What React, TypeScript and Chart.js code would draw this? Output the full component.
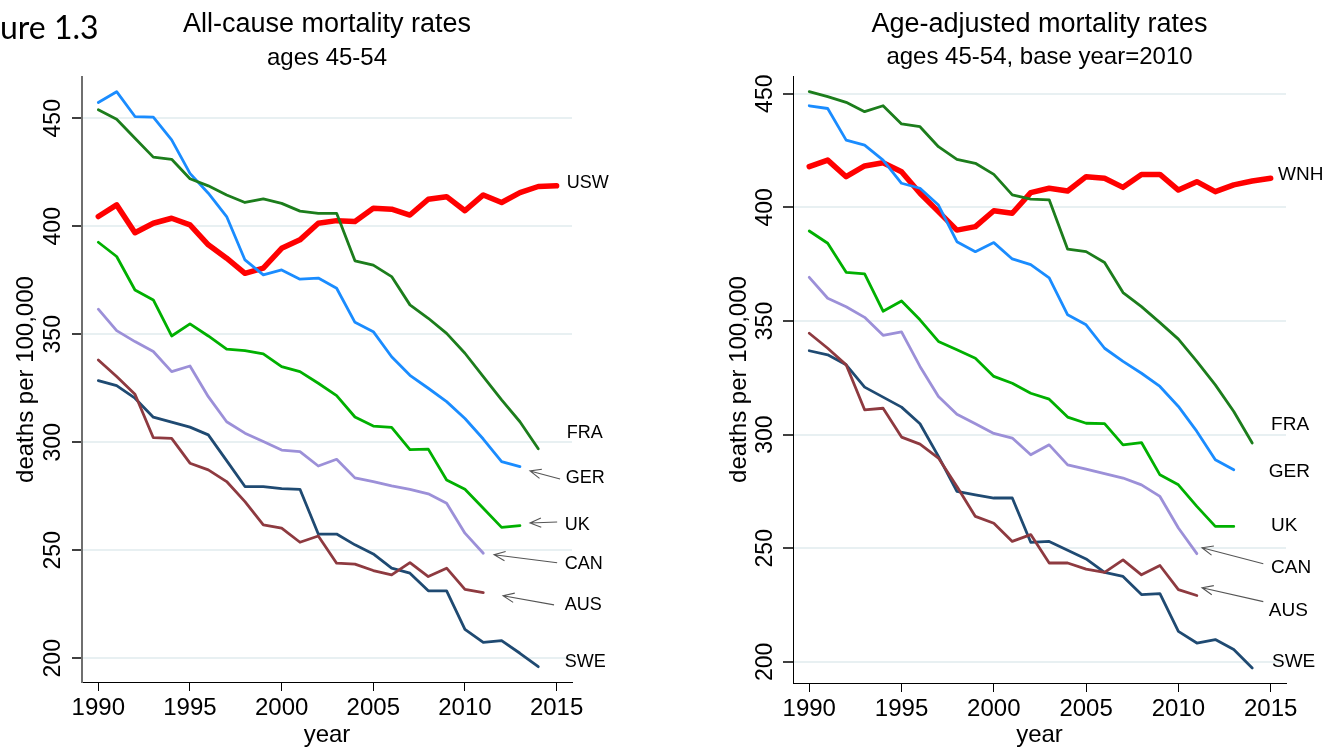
import React, { useEffect, useRef } from "react";
import { Chart, registerables } from "chart.js";

Chart.register(...registerables);

const FONT = "'Liberation Sans', Arial, Helvetica, sans-serif";

// ---------- shared ----------
const years = [1990, 1991, 1992, 1993, 1994, 1995, 1996, 1997, 1998, 1999, 2000, 2001, 2002, 2003, 2004, 2005, 2006, 2007, 2008, 2009, 2010, 2011, 2012, 2013, 2014, 2015];
const xTicks = [1990, 1995, 2000, 2005, 2010, 2015];
const yTicks = [200, 250, 300, 350, 400, 450];

// ---------- left panel: all-cause mortality ----------
const leftUSW = [404.5, 409.9, 397, 401.4, 403.7, 400.6, 391.4, 385.2, 378.2, 380.6, 389.8, 393.7, 401.4, 402.6, 402.2, 408.3, 407.9, 405.2, 412.5, 413.7, 407.2, 414.5, 411, 415.6, 418.4, 418.7];
const leftFRA = [453.9, 449.5, 440.7, 432, 431, 422, 418.7, 414.5, 411, 412.7, 410.6, 407, 406, 406, 384, 382, 376.7, 363.6, 357.4, 350.4, 341.2, 330.4, 319.6, 309.5, 297];
const leftGER = [457.3, 462.3, 450.8, 450.5, 440, 424.5, 415.3, 404.5, 384.4, 377.5, 379.8, 375.5, 376, 371.3, 355.5, 351.2, 339.6, 331, 325, 318.8, 311, 301.5, 291, 288.7];
const leftUK = [392.6, 386, 370.5, 365.9, 349.2, 354.8, 349.2, 343.1, 342.4, 340.9, 335, 332.7, 327.3, 321.6, 311.7, 307.5, 306.9, 296.6, 296.8, 282.5, 278.2, 269.4, 260.6, 261.4];
const leftCAN = [361.6, 351.7, 346.6, 342, 332.7, 335.3, 321.1, 309.5, 304.2, 300.3, 296.4, 295.7, 289, 292.1, 283.5, 281.8, 279.8, 278.2, 276.1, 271.8, 257.9, 248.6];
const leftAUS = [338.1, 330.4, 322.2, 302.1, 301.8, 290.3, 287.2, 281.8, 272.5, 261.7, 260.2, 253.7, 256.6, 244, 243.6, 240.6, 238.6, 244.3, 237.8, 241.7, 231.9, 230.4];
const leftSWE = [328.5, 326.2, 320.4, 311.6, 309.3, 307, 303.4, 291.5, 279.5, 279.5, 278.5, 278.2, 257.5, 257.5, 252.5, 248.3, 241.7, 239.4, 231.2, 231.2, 213.4, 207.3, 208.2, 202.3, 196.1];

const leftLabelNames = ["USW", "FRA", "GER", "UK", "CAN", "AUS", "SWE"];
const leftLabelYear = [2015.55, 2015.55, 2015.5, 2015.45, 2015.45, 2015.45, 2015.45];
const leftLabelValue = [420.0, 304.1, 283.5, 261.7, 243.6, 224.7, 198.3];

const leftArrowFromYear = [2015.19, 2015.03, 2015.03, 2014.86];
const leftArrowFromValue = [283.0, 263.1, 244.2, 224.7];
const leftArrowToYear = [2013.55, 2013.55, 2011.59, 2012.08];
const leftArrowToValue = [286.7, 262.6, 247.9, 228.9];

// ---------- right panel: age-adjusted mortality ----------
const rightWNH = [417.9, 420.8, 413.5, 418.2, 419.6, 415.7, 406.2, 398.1, 390, 391.5, 398.5, 397.4, 406.5, 408.4, 407.2, 413.5, 412.8, 408.8, 414.5, 414.5, 407.6, 411.3, 406.9, 409.9, 411.6, 412.8];
const rightFRA = [450.9, 448.7, 446.2, 442.1, 444.7, 436.7, 435.5, 426.7, 421.1, 419.4, 414.5, 405.5, 403.6, 403.3, 381.6, 380.5, 375.7, 362.5, 356.3, 349.3, 342, 332.2, 321.9, 310.2, 296.3];
const rightGER = [444.7, 443.5, 429.6, 427.4, 420.8, 410.6, 408.4, 401, 384.9, 380.5, 384.5, 377.3, 374.8, 369, 352.7, 348.3, 338, 332.2, 327, 321.2, 312.4, 301.4, 288.9, 284.5];
const rightUK = [389.6, 384.2, 371.4, 370.7, 354.3, 358.8, 350.5, 341, 337.3, 333.6, 325.6, 322.6, 318.2, 315.6, 307.7, 305, 304.8, 295.5, 296.5, 282.3, 277.9, 268.4, 259.6, 259.6];
const rightCAN = [369.2, 360, 356.3, 351.6, 343.7, 345.2, 330, 316.8, 309, 304.8, 300.5, 298.5, 291.1, 295.5, 286.7, 284.8, 282.8, 280.9, 277.9, 272.8, 258.9, 247.6];
const rightAUS = [344.6, 338, 330.7, 310.9, 311.6, 298.9, 295.8, 289.7, 277.2, 264, 261, 253, 256, 243.5, 243.5, 240.8, 239.4, 244.9, 238.3, 242.4, 231.8, 229.2];
const rightSWE = [336.9, 335.1, 330.7, 320.9, 316.5, 312.1, 304.8, 290.4, 275, 273.5, 272.1, 272.1, 252.6, 253, 249.1, 245.3, 239.4, 237.6, 229.6, 230, 213.4, 208.3, 209.8, 205.4, 197.3];

const rightLabelNames = ["WNH", "FRA", "GER", "UK", "CAN", "AUS", "SWE"];
const rightLabelYear = [2015.4, 2015.02, 2014.9, 2015.02, 2015.02, 2014.9, 2015.07];
const rightLabelValue = [414.2, 304.3, 283.6, 259.9, 241.4, 222.4, 200.0];

const rightArrowFromYear = [2014.6, 2014.6];
const rightArrowFromValue = [243.2, 226.5];
const rightArrowToYear = [2011.28, 2011.28];
const rightArrowToValue = [250.2, 232.6];

// ---------- styles ----------
const COLORS = {
  red: "#ff0000",
  fra: "#1c7d1c",
  ger: "#1a8cff",
  uk: "#00b000",
  can: "#9c90d8",
  aus: "#8e3a40",
  swe: "#1f4a72",
};

type Series = { name: string; values: number[]; color: string; width: number };

function toPoints(values: number[]) {
  return values.map((v, i) => ({ x: years[i], y: v }));
}

function drawArrow(ctx: CanvasRenderingContext2D, x1: number, y1: number, x2: number, y2: number) {
  const a = Math.atan2(y2 - y1, x2 - x1);
  const L = 12;
  const w = 0.4;
  ctx.beginPath();
  ctx.moveTo(x1, y1);
  ctx.lineTo(x2, y2);
  ctx.moveTo(x2 - L * Math.cos(a - w), y2 - L * Math.sin(a - w));
  ctx.lineTo(x2, y2);
  ctx.lineTo(x2 - L * Math.cos(a + w), y2 - L * Math.sin(a + w));
  ctx.stroke();
}

type Panel = {
  width: number;
  top: number;
  padRight: number;
  yAxisWidth: number;
  xAxisHeight: number;
  xMin: number;
  xMax: number;
  yMin: number;
  yMax: number;
  yBorderColor: string;
  yBorderWidth: number;
  title1: string;
  title2: string;
  title2Y: number;
  tickBaseX: number;
  axisTitleBaseX: number;
  labelSize: number;
  series: Series[];
  labelNames: string[];
  labelYear: number[];
  labelValue: number[];
  arrowFromYear: number[];
  arrowFromValue: number[];
  arrowToYear: number[];
  arrowToValue: number[];
  corner?: string;
};

const leftPanel: Panel = {
  width: 660,
  top: 77,
  padRight: 88,
  yAxisWidth: 82,
  xAxisHeight: 66,
  xMin: 1989.11,
  xMax: 2015.84,
  yMin: 189.0,
  yMax: 469.1,
  yBorderColor: "#6f6f6f",
  yBorderWidth: 2,
  title1: "All-cause mortality rates",
  title2: "ages 45-54",
  title2Y: 65,
  tickBaseX: 60,
  axisTitleBaseX: 33,
  labelSize: 18,
  series: [
    { name: "FRA", values: leftFRA, color: COLORS.fra, width: 2.8 },
    { name: "GER", values: leftGER, color: COLORS.ger, width: 2.8 },
    { name: "UK", values: leftUK, color: COLORS.uk, width: 2.8 },
    { name: "CAN", values: leftCAN, color: COLORS.can, width: 2.8 },
    { name: "AUS", values: leftAUS, color: COLORS.aus, width: 2.8 },
    { name: "SWE", values: leftSWE, color: COLORS.swe, width: 2.8 },
    { name: "USW", values: leftUSW, color: COLORS.red, width: 5.5 },
  ],
  labelNames: leftLabelNames,
  labelYear: leftLabelYear,
  labelValue: leftLabelValue,
  arrowFromYear: leftArrowFromYear,
  arrowFromValue: leftArrowFromValue,
  arrowToYear: leftArrowToYear,
  arrowToValue: leftArrowToValue,
  corner: "ure 1.3",
};

const rightPanel: Panel = {
  width: 667,
  top: 76,
  padRight: 41,
  yAxisWidth: 133,
  xAxisHeight: 65,
  xMin: 1989.12,
  xMax: 2015.83,
  yMin: 190.7,
  yMax: 457.8,
  yBorderColor: "#000000",
  yBorderWidth: 1,
  title1: "Age-adjusted mortality rates",
  title2: "ages 45-54, base year=2010",
  title2Y: 64,
  tickBaseX: 112,
  axisTitleBaseX: 86,
  labelSize: 19,
  series: [
    { name: "FRA", values: rightFRA, color: COLORS.fra, width: 2.8 },
    { name: "GER", values: rightGER, color: COLORS.ger, width: 2.8 },
    { name: "UK", values: rightUK, color: COLORS.uk, width: 2.8 },
    { name: "CAN", values: rightCAN, color: COLORS.can, width: 2.8 },
    { name: "AUS", values: rightAUS, color: COLORS.aus, width: 2.8 },
    { name: "SWE", values: rightSWE, color: COLORS.swe, width: 2.8 },
    { name: "WNH", values: rightWNH, color: COLORS.red, width: 5.5 },
  ],
  labelNames: rightLabelNames,
  labelYear: rightLabelYear,
  labelValue: rightLabelValue,
  arrowFromYear: rightArrowFromYear,
  arrowFromValue: rightArrowFromValue,
  arrowToYear: rightArrowToYear,
  arrowToValue: rightArrowToValue,
};

function makeConfig(p: Panel): any {
  const annot = {
    id: "annot",
    afterDraw(chart: any) {
      const ctx: CanvasRenderingContext2D = chart.ctx;
      const xs = chart.scales.x;
      const ys = chart.scales.y;
      const ca = chart.chartArea;
      const cx = (ca.left + ca.right) / 2;
      const cy = (ca.top + ca.bottom) / 2;
      ctx.save();
      ctx.fillStyle = "#000";
      ctx.textBaseline = "alphabetic";
      ctx.textAlign = "center";
      ctx.font = `27px ${FONT}`;
      ctx.fillText(p.title1, cx, 32);
      ctx.font = `24px ${FONT}`;
      ctx.fillText(p.title2, cx, p.title2Y);
      ctx.fillText("year", cx, 742);

      // y tick labels (rotated)
      ctx.font = `23px ${FONT}`;
      for (const v of yTicks) {
        const y = ys.getPixelForValue(v);
        ctx.save();
        ctx.translate(p.tickBaseX, y);
        ctx.rotate(-Math.PI / 2);
        ctx.textAlign = "center";
        ctx.fillText(String(v), 0, 0);
        ctx.restore();
      }
      // y axis title
      ctx.font = `24px ${FONT}`;
      ctx.save();
      ctx.translate(p.axisTitleBaseX, cy);
      ctx.rotate(-Math.PI / 2);
      ctx.textAlign = "center";
      ctx.fillText("deaths per 100,000", 0, 0);
      ctx.restore();

      // series labels
      ctx.font = `${p.labelSize}px ${FONT}`;
      ctx.textAlign = "left";
      ctx.textBaseline = "middle";
      p.labelNames.forEach((n, i) => {
        ctx.fillText(n, xs.getPixelForValue(p.labelYear[i]), ys.getPixelForValue(p.labelValue[i]));
      });

      // arrows
      ctx.strokeStyle = "#555";
      ctx.lineWidth = 1.1;
      p.arrowFromYear.forEach((fy, i) => {
        drawArrow(
          ctx,
          xs.getPixelForValue(fy),
          ys.getPixelForValue(p.arrowFromValue[i]),
          xs.getPixelForValue(p.arrowToYear[i]),
          ys.getPixelForValue(p.arrowToValue[i])
        );
      });

      if (p.corner) {
        ctx.font = `32px Lato, 'Open Sans', sans-serif`;
        ctx.textAlign = "left";
        ctx.textBaseline = "alphabetic";
        ctx.fillText(p.corner, 0, 39);
      }
      ctx.restore();
    },
  };

  return {
    type: "line",
    data: {
      datasets: p.series.map((s) => ({
        label: s.name,
        data: toPoints(s.values),
        borderColor: s.color,
        backgroundColor: s.color,
        borderWidth: s.width,
        pointRadius: 0,
        pointHoverRadius: 0,
        tension: 0,
        fill: false,
        borderJoinStyle: "round",
        borderCapStyle: "round",
      })),
    },
    options: {
      responsive: false,
      animation: false,
      events: [],
      layout: { padding: { left: 0, top: p.top, right: p.padRight, bottom: 0 } },
      plugins: {
        legend: { display: false },
        tooltip: { enabled: false },
        title: { display: false },
      },
      scales: {
        x: {
          type: "linear",
          min: p.xMin,
          max: p.xMax,
          bounds: "data",
          afterBuildTicks: (s: any) => {
            s.ticks = xTicks.map((v) => ({ value: v }));
          },
          afterFit: (s: any) => {
            s.height = p.xAxisHeight;
          },
          grid: {
            drawOnChartArea: false,
            drawTicks: true,
            tickLength: 9,
            tickColor: "#000",
            tickWidth: 1,
          },
          border: { display: true, color: "#000", width: 1 },
          ticks: {
            font: { size: 24, family: FONT },
            color: "#000",
            padding: 3,
            maxRotation: 0,
            minRotation: 0,
            autoSkip: false,
            callback: (v: any) => String(v),
          },
        },
        y: {
          type: "linear",
          min: p.yMin,
          max: p.yMax,
          bounds: "data",
          afterBuildTicks: (s: any) => {
            s.ticks = yTicks.map((v) => ({ value: v }));
          },
          afterFit: (s: any) => {
            s.width = p.yAxisWidth;
          },
          grid: {
            color: "#e8f0f2",
            lineWidth: 2,
            drawTicks: true,
            tickLength: 10,
            tickColor: "#000",
            tickWidth: 1.5,
          },
          border: { display: true, color: p.yBorderColor, width: p.yBorderWidth },
          ticks: { display: false },
        },
      },
    },
    plugins: [annot],
  };
}

function PanelChart({ panel, left }: { panel: Panel; left: number }) {
  const ref = useRef<HTMLCanvasElement>(null);
  useEffect(() => {
    if (!ref.current) return;
    const chart = new Chart(ref.current, makeConfig(panel));
    return () => chart.destroy();
  }, [panel]);
  return (
    <canvas
      ref={ref}
      width={panel.width}
      height={748}
      style={{ position: "absolute", left, top: 0, width: panel.width, height: 748 }}
    />
  );
}

export default function App() {
  return (
    <div
      style={{
        position: "absolute",
        left: 0,
        top: 0,
        width: 1327,
        height: 748,
        background: "#ffffff",
        overflow: "hidden",
      }}
    >
      <PanelChart panel={leftPanel} left={0} />
      <PanelChart panel={rightPanel} left={660} />
    </div>
  );
}
